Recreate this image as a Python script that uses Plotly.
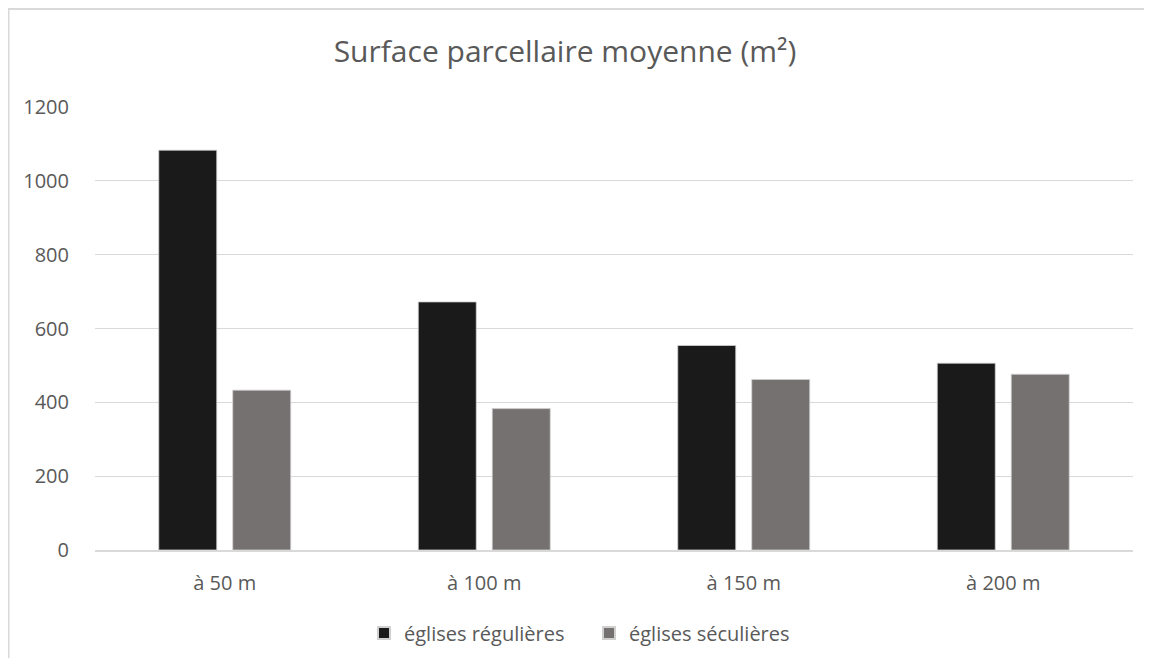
import plotly.graph_objects as go

categories = ["à 50 m", "à 100 m", "à 150 m", "à 200 m"]
regulieres = [1083, 672, 554, 506]
seculieres = [433, 383, 462, 476]
series_names = ["églises régulières", "églises séculières"]
colors = ["#1a1a1a", "#767171"]

# page has an 8px body margin; work in page coordinates and convert
OFF = 8
W, H = 1136, 650
PL, PR, PT, PB = 95, 1133, 107, 550  # plot area in page px
L, R, T, B = PL - OFF, W - (PR - OFF), PT - OFF, H - (PB - OFF)

fig = go.Figure()
for name, vals, col in zip(series_names, [regulieres, seculieres], colors):
    fig.add_trace(go.Bar(
        x=categories, y=vals, name=name,
        marker=dict(color=col, line=dict(color="#d0d0d0", width=0.8)),
    ))

pw, ph = PR - PL, PB - PT
def px(x):
    return (x - PL) / pw
def py(y):
    return (PB - y) / ph

fig.add_shape(type="rect", xref="paper", yref="paper",
              x0=px(8.5), x1=px(1200), y0=py(720), y1=py(9),
              line=dict(color="#d9d9d9", width=2), fillcolor="rgba(0,0,0,0)", layer="below")

fig.update_layout(
    width=W, height=H,
    margin=dict(l=L, r=R, t=T, b=B, autoexpand=False),
    paper_bgcolor="white", plot_bgcolor="white",
    font=dict(family="Open Sans, Lato, sans-serif", color="#595959", size=20),
    title=dict(text="Surface parcellaire moyenne (m²)", x=(565 - OFF) / W, xanchor="center",
               y=1 - (51 - OFF) / H, yanchor="middle",
               font=dict(size=30, color="#595959")),
    barmode="group", bargap=0.43, bargroupgap=0.216,
    xaxis=dict(showgrid=False, showline=True, linecolor="#d9d9d9", linewidth=1.5,
               ticks="", ticklabelstandoff=14, tickfont=dict(size=20, color="#595959")),
    yaxis=dict(range=[0, 1200], dtick=200, showgrid=True, gridcolor="#d9d9d9",
               gridwidth=1.3, zeroline=False, ticks="", ticklabelstandoff=25,
               tickfont=dict(size=20, color="#595959")),
    legend=dict(orientation="h", x=px(589), xanchor="center", y=py(633), yanchor="middle",
                font=dict(size=20, color="#595959"), itemwidth=30,
                entrywidth=180, entrywidthmode="pixels",
                traceorder="normal", itemsizing="constant"),
    showlegend=True,
)

fig.write_html("out.html")
